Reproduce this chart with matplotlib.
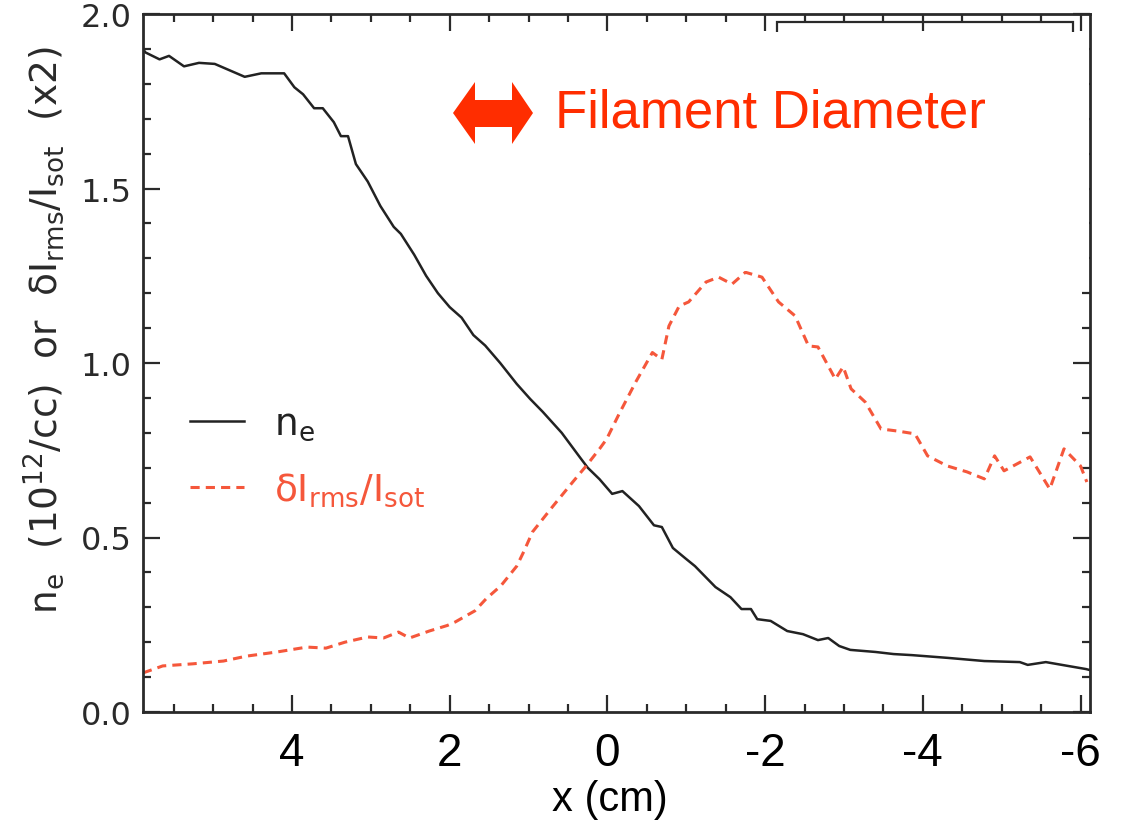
import matplotlib
matplotlib.use('Agg')
import matplotlib.pyplot as plt
import matplotlib.patches as mpatches
from matplotlib.ticker import MultipleLocator
import numpy as np

# --- data ---
ne_x = [5.89, 5.86, 5.68, 5.56, 5.37, 5.18, 4.98, 4.60, 4.39, 4.10, 3.97, 3.86,
        3.72, 3.61, 3.47, 3.38, 3.29, 3.19, 3.04, 2.88, 2.71, 2.62, 2.45, 2.30,
        2.15, 2.00, 1.85, 1.70, 1.55, 1.36, 1.15, 0.98, 0.82, 0.58, 0.35, 0.25,
        0.10, -0.06, -0.19, -0.40, -0.59, -0.69, -0.83, -0.99, -1.11, -1.37,
        -1.56, -1.70, -1.82, -1.90, -2.07, -2.28, -2.48, -2.67, -2.80, -2.94,
        -3.08, -3.40, -3.63, -3.86, -4.32, -4.78, -5.23, -5.33, -5.56, -5.84,
        -6.07, -6.12]
ne_y = [1.90, 1.89, 1.87, 1.88, 1.85, 1.86, 1.857, 1.82, 1.83, 1.83, 1.79, 1.77,
        1.73, 1.73, 1.69, 1.65, 1.65, 1.57, 1.52, 1.45, 1.39, 1.37, 1.31, 1.25,
        1.20, 1.16, 1.13, 1.08, 1.05, 1.00, 0.94, 0.897, 0.86, 0.80, 0.73, 0.70,
        0.667, 0.625, 0.633, 0.59, 0.535, 0.53, 0.47, 0.44, 0.418, 0.358,
        0.329, 0.295, 0.295, 0.266, 0.261, 0.232, 0.223, 0.206, 0.212, 0.189,
        0.178, 0.172, 0.166, 0.163, 0.155, 0.146, 0.143, 0.135, 0.143, 0.132,
        0.123, 0.12]

di_x = [5.89, 5.64, 5.26, 4.87, 4.58, 4.19, 3.81, 3.57, 3.33, 3.04, 2.84, 2.65,
        2.51, 2.26, 2.03, 1.93, 1.68, 1.54, 1.35, 1.15, 1.06, 0.95, 0.69, 0.44,
        0.27, 0.10, 0.01, -0.15, -0.36, -0.57, -0.69, -0.78, -0.91, -1.03,
        -1.25, -1.41, -1.58, -1.75, -1.96, -2.17, -2.38, -2.55, -2.67, -2.89,
        -2.99, -3.09, -3.27, -3.47, -3.68, -3.90, -4.06, -4.31, -4.56, -4.78,
        -4.91, -5.03, -5.36, -5.61, -5.79, -6.00, -6.08]
di_y = [0.112, 0.132, 0.138, 0.146, 0.160, 0.172, 0.186, 0.183, 0.200, 0.215,
        0.212, 0.229, 0.212, 0.232, 0.248, 0.258, 0.290, 0.324, 0.362, 0.418,
        0.460, 0.516, 0.590, 0.659, 0.705, 0.754, 0.782, 0.855, 0.946, 1.030,
        1.010, 1.106, 1.163, 1.175, 1.232, 1.246, 1.226, 1.260, 1.246, 1.175,
        1.135, 1.049, 1.046, 0.954, 0.989, 0.926, 0.888, 0.811, 0.805, 0.797,
        0.734, 0.705, 0.688, 0.668, 0.734, 0.691, 0.731, 0.639, 0.754, 0.705,
        0.659]

x_ticks = [4, 2, 0, -2, -4, -6]
y_ticks = [0.0, 0.5, 1.0, 1.5, 2.0]

W, H = 1121, 829
RED = '#f5573b'
ANNOT_RED = '#ff2d00'
INK = '#2a2a2a'


def fx(px):
    return px / W


def fy(py):
    return 1 - py / H


fig = plt.figure(figsize=(W / 100, H / 100), dpi=100)
ax = fig.add_axes([fx(143), fy(713), fx(1090) - fx(143), fy(15) - fy(713)])

ax.plot(ne_x, ne_y, color='#222222', lw=1.8, label=r'$\mathregular{n_e}$')
ax.plot(di_x, di_y, color=RED, lw=2.2, dashes=[3, 2],
        label=r'$\mathregular{\delta I_{rms}/I_{sot}}$')

ax.set_xlim(5.89, -6.12)
ax.set_ylim(0, 2.0)

ax.set_xticks(x_ticks)
ax.set_xticklabels([str(t) for t in x_ticks], fontsize=33,
                   family='Liberation Sans')
ax.xaxis.set_minor_locator(MultipleLocator(0.5))
ax.set_yticks(y_ticks)
ax.set_yticklabels([f'{t:.1f}' for t in y_ticks], fontsize=23, color=INK)
ax.yaxis.set_minor_locator(MultipleLocator(0.1))

ax.tick_params(which='both', direction='in', top=True, right=True, width=1.6,
               color=INK)
ax.tick_params(which='major', length=12)
ax.tick_params(which='minor', length=6)
ax.tick_params(axis='x', which='major', pad=14)
ax.tick_params(axis='y', which='major', pad=8)
for s in ax.spines.values():
    s.set_linewidth(2.0)
    s.set_color(INK)

ax.set_ylabel(r'$\mathregular{n_e\ \ (10^{12}/cc)\ \ or\ \ \delta I_{rms}/I_{sot}\ \ (x2)}$',
              fontsize=27, color=INK)
ax.yaxis.set_label_coords((66 - 143) / 947, (713 - 330) / 698)

fig.text(fx(610), fy(800), 'x (cm)', fontsize=30, family='Liberation Sans',
         ha='center', va='center')

ax.legend(loc='upper left', bbox_to_anchor=((190 - 143) / 947, (713 - 407) / 698),
          frameon=False, fontsize=27, handlelength=1.45, handletextpad=0.8,
          labelspacing=0.75, borderpad=0, borderaxespad=0,
          labelcolor='linecolor')

# remnant of an old legend box, mostly covered by a white patch
fig.add_artist(mpatches.Rectangle((fx(777), fy(60)), fx(1073) - fx(777), fy(23) - fy(60),
                                  transform=fig.transFigure, fill=False,
                                  edgecolor=INK, lw=1.6, zorder=5))
fig.add_artist(mpatches.Rectangle((fx(440), fy(272)), fx(1089) - fx(440), fy(33) - fy(272),
                                  transform=fig.transFigure, facecolor='white',
                                  edgecolor='none', zorder=6))

# double-headed arrow and label
arrow_px = [(453, 114), (475, 83), (475, 101), (512, 101), (512, 83), (533, 114),
            (512, 145), (512, 128), (475, 128), (475, 145)]
fig.add_artist(mpatches.Polygon([(fx(a), fy(b)) for a, b in arrow_px],
                                closed=True, transform=fig.transFigure,
                                facecolor=ANNOT_RED, edgecolor='none', zorder=7))
fig.text(fx(555), fy(114), 'Filament Diameter', fontsize=38, color=ANNOT_RED,
         family='Liberation Sans', ha='left', va='center', zorder=7)

fig.savefig('out.png', dpi=100, facecolor='white')
